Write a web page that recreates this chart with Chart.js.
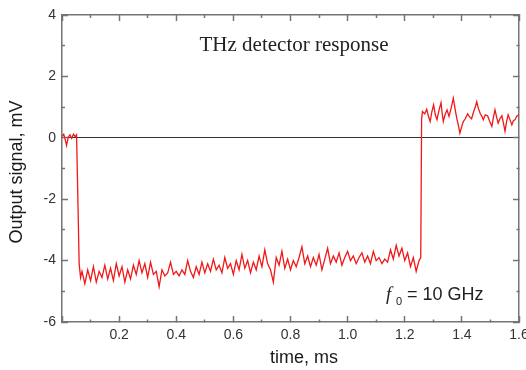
<!DOCTYPE html>
<html>
<head>
<meta charset="utf-8">
<script src="https://cdn.jsdelivr.net/npm/chart.js@4/dist/chart.umd.min.js"></script>
<style>
  html, body { margin: 0; padding: 0; background: #fff; }
  #wrap { width: 526px; height: 370px; }
</style>
</head>
<body>
<div id="wrap"><canvas id="detChart"></canvas></div>
<script>
// time axis (ms) and detector output (mV)
const times = [
  0.000, 0.006, 0.011, 0.016, 0.022, 0.028, 0.034, 0.040, 0.046, 0.051, 0.056, 0.060, 0.065,
  0.07, 0.08, 0.09, 0.10, 0.11, 0.12, 0.13, 0.14, 0.15, 0.16, 0.17, 0.18, 0.19,
  0.20, 0.21, 0.22, 0.23, 0.24, 0.25, 0.26, 0.27, 0.28, 0.29,
  0.30, 0.31, 0.32, 0.33, 0.34, 0.35, 0.36, 0.37, 0.38, 0.39,
  0.40, 0.41, 0.42, 0.43, 0.44, 0.45, 0.46, 0.47, 0.48, 0.49,
  0.50, 0.51, 0.52, 0.53, 0.54, 0.55, 0.56, 0.57, 0.58, 0.59,
  0.60, 0.61, 0.62, 0.63, 0.64, 0.65, 0.66, 0.67, 0.68, 0.69,
  0.70, 0.71, 0.72, 0.73, 0.74, 0.75, 0.76, 0.77, 0.78, 0.79,
  0.80, 0.81, 0.82, 0.83, 0.84, 0.85, 0.86, 0.87, 0.88, 0.89,
  0.90, 0.91, 0.92, 0.93, 0.94, 0.95, 0.96, 0.97, 0.98, 0.99,
  1.00, 1.01, 1.02, 1.03, 1.04, 1.05, 1.06, 1.07, 1.08, 1.09,
  1.10, 1.11, 1.12, 1.13, 1.14, 1.15, 1.16, 1.17, 1.18, 1.19,
  1.20, 1.21, 1.22, 1.23, 1.24, 1.25, 1.256, 1.259,
  1.262, 1.270, 1.277, 1.283, 1.289, 1.295, 1.301, 1.307, 1.313, 1.320,
  1.327, 1.331, 1.335, 1.341, 1.348, 1.355, 1.362, 1.370, 1.376, 1.382,
  1.388, 1.393, 1.399, 1.405, 1.412, 1.420, 1.427, 1.434, 1.441, 1.447,
  1.452, 1.458, 1.464, 1.470, 1.475, 1.482, 1.490, 1.497, 1.505, 1.510,
  1.516, 1.521, 1.527, 1.533, 1.540, 1.546, 1.551, 1.556, 1.562, 1.568,
  1.575, 1.580, 1.586, 1.592, 1.600
];
const signal = [
  0.05, 0.12, -0.05, -0.25, 0.02, 0.10, -0.02, 0.12, 0.04, 0.10, -2.2, -4.1, -4.55,
  -4.35, -4.75, -4.30, -4.65, -4.20, -4.70, -4.35, -4.55, -4.15, -4.60, -4.25, -4.65, -4.10,
  -4.50, -4.20, -4.70, -4.30, -4.60, -4.15, -4.45, -4.00, -4.40, -4.10,
  -4.55, -4.05, -4.45, -4.35, -4.85, -4.30, -4.50, -4.40, -4.05, -4.45,
  -4.35, -4.50, -4.30, -4.45, -4.00, -4.35, -4.55, -4.20, -4.45, -4.05,
  -4.40, -4.10, -4.35, -3.95, -4.30, -4.15, -4.40, -3.90, -4.25, -4.10,
  -4.45, -4.00, -4.30, -3.80, -4.25, -4.00, -4.40, -4.05, -4.30, -3.85,
  -4.20, -3.65, -4.10, -4.30, -4.70, -3.90, -4.15, -3.70, -4.25, -3.95,
  -4.30, -4.00, -4.20, -3.90, -3.55, -4.10, -3.85, -4.20, -3.90, -4.15,
  -3.80, -4.30, -3.95, -3.60, -4.10, -3.85, -4.05, -3.75, -4.15, -3.90,
  -3.70, -4.00, -3.85, -4.10, -3.90, -3.75, -4.05, -3.85, -4.10, -3.70,
  -4.00, -3.90, -4.10, -3.95, -4.05, -3.65, -3.95, -3.50, -3.85, -3.60,
  -4.00, -3.75, -4.20, -3.90, -4.35, -4.00, -3.90, 0.60,
  0.86, 0.78, 0.93, 0.70, 0.53, 0.85, 1.07, 0.75, 0.59, 0.90,
  1.14, 0.80, 0.53, 0.75, 0.91, 0.70, 0.95, 1.29, 0.95, 0.64,
  0.40, 0.15, 0.35, 0.53, 0.62, 0.78, 0.68, 0.62, 0.85, 1.00,
  1.18, 0.95, 0.80, 0.70, 0.59, 0.75, 0.72, 0.55, 0.37, 0.65,
  0.91, 0.70, 0.48, 0.62, 0.72, 0.45, 0.21, 0.50, 0.75, 0.60,
  0.42, 0.55, 0.59, 0.70, 0.75
];
const xLabels = [0.2, 0.4, 0.6, 0.8, 1.0, 1.2, 1.4, 1.6];
const yLabels = [-6, -4, -2, 0, 2, 4];

const axisColor = '#747474';
const tickFont = { family: 'Liberation Sans', size: 14 };

const isXMajor = v => xLabels.some(l => Math.abs(l - v) < 1e-6) || Math.abs(v) < 1e-6;
const isYMajor = v => yLabels.some(l => Math.abs(l - v) < 1e-6);

// minor ticks: keep only the part of the tick next to the frame
const tickDash = (major, ctx) => (ctx.tick && major(ctx.tick.value)) ? [] : [3, 20];

function fixSize(prop, size) {
  return s => {
    s[prop] = size;
    s.paddingLeft = s.paddingRight = s.paddingTop = s.paddingBottom = 0;
  };
}

const textPlugin = {
  id: 'textPlugin',
  afterDraw(chart) {
    const c = chart.ctx;
    c.save();
    c.fillStyle = '#222';
    c.textBaseline = 'alphabetic';
    c.textAlign = 'center';
    c.font = '21px "Liberation Serif"';
    c.fillText('THz detector response', 294, 51);

    c.textAlign = 'left';
    c.font = 'italic 19px "Liberation Serif"';
    c.fillText('f', 386, 300);
    c.font = '11px "Liberation Sans"';
    c.fillText('0', 396, 305);
    c.font = '18px "Liberation Sans"';
    c.fillText('= 10 GHz', 407, 300);

    c.fillStyle = '#1a1a1a';
    c.textAlign = 'center';
    c.textBaseline = 'middle';
    c.font = '18px "Liberation Sans"';
    c.fillText('time, ms', 304, 358);
    c.translate(17, 172);
    c.rotate(-Math.PI / 2);
    c.fillText('Output signal, mV', 0, 0);
    c.restore();
  }
};

new Chart(document.getElementById('detChart'), {
  type: 'line',
  data: {
    datasets: [{
      data: times.map((t, i) => ({ x: t, y: signal[i] })),
      borderColor: '#f01818',
      borderWidth: 1.3,
      pointRadius: 0,
      tension: 0,
      fill: false
    }]
  },
  options: {
    responsive: true,
    maintainAspectRatio: false,
    animation: false,
    layout: { padding: { top: 15, right: 7, left: 0, bottom: 0 } },
    plugins: { legend: { display: false }, tooltip: { enabled: false } },
    scales: {
      x: {
        type: 'linear', position: 'bottom', min: 0, max: 1.6,
        afterFit: fixSize('height', 48),
        border: { color: axisColor, width: 1.5 },
        grid: {
          drawOnChartArea: false, tickLength: -6, tickColor: axisColor, tickWidth: 1.5,
          tickBorderDash: ctx => tickDash(isXMajor, ctx)
        },
        ticks: {
          stepSize: 0.1, autoSkip: false, maxRotation: 0, padding: 11,
          color: '#333', font: tickFont,
          callback: v => xLabels.some(l => Math.abs(l - v) < 1e-6) ? v.toFixed(1) : ''
        }
      },
      xTop: {
        type: 'linear', position: 'top', min: 0, max: 1.6,
        afterFit: fixSize('height', 0),
        border: { color: axisColor, width: 1.5 },
        grid: {
          drawOnChartArea: false, tickLength: -6, tickColor: axisColor, tickWidth: 1.5,
          tickBorderDash: ctx => tickDash(isXMajor, ctx), tickBorderDashOffset: 20
        },
        ticks: { display: false, stepSize: 0.1, autoSkip: false }
      },
      y: {
        type: 'linear', position: 'left', min: -6, max: 4,
        afterFit: fixSize('width', 62),
        border: { color: axisColor, width: 1.5 },
        grid: {
          drawOnChartArea: true,
          color: ctx => (ctx.tick && ctx.tick.value === 0) ? '#333' : 'rgba(0,0,0,0)',
          lineWidth: 1,
          tickLength: -6, tickColor: axisColor, tickWidth: 1.5,
          tickBorderDash: ctx => tickDash(isYMajor, ctx), tickBorderDashOffset: 20
        },
        ticks: {
          stepSize: 1, autoSkip: false, padding: 12,
          color: '#333', font: tickFont,
          callback: v => yLabels.includes(v) ? String(v) : ''
        }
      },
      yRight: {
        type: 'linear', position: 'right', min: -6, max: 4,
        afterFit: fixSize('width', 0),
        border: { color: axisColor, width: 1.5 },
        grid: {
          drawOnChartArea: false, tickLength: -6, tickColor: axisColor, tickWidth: 1.5,
          tickBorderDash: ctx => tickDash(isYMajor, ctx)
        },
        ticks: { display: false, stepSize: 1, autoSkip: false }
      }
    }
  },
  plugins: [textPlugin]
});
</script>
</body>
</html>
